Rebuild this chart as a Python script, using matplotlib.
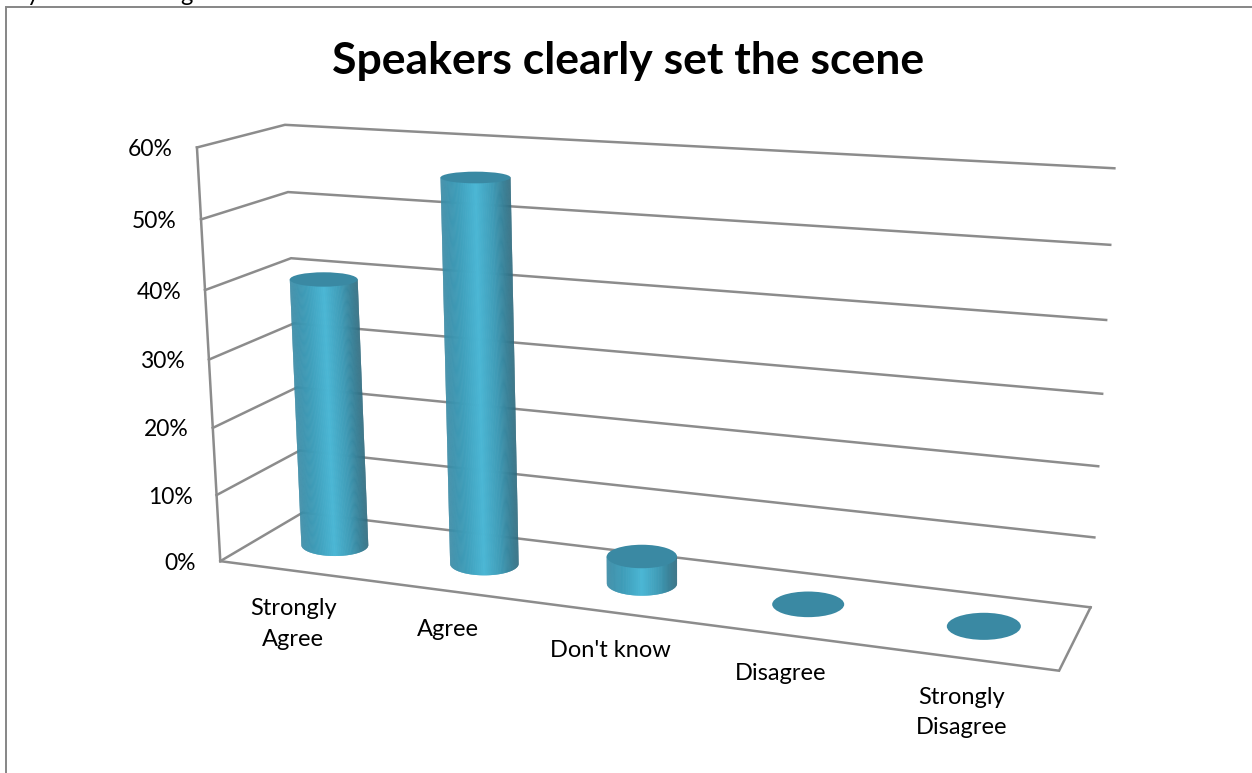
import numpy as np
import matplotlib
matplotlib.use('Agg')
import matplotlib.pyplot as plt
from matplotlib.collections import PolyCollection
from matplotlib.colors import LinearSegmentedColormap
from matplotlib.patches import Ellipse

title = 'Speakers clearly set the scene'
categories = ['Strongly\nAgree', 'Agree', "Don't know", 'Disagree', 'Strongly\nDisagree']
values = [40, 56, 4, 0, 0]
ticks = [0, 10, 20, 30, 40, 50, 60]

W, H = 1252, 773
GRID = '#8c8c8c'
TOP = '#3a89a3'
shade = LinearSegmentedColormap.from_list('cyl', ['#3a8ba6', '#3f9fbb', '#4bb7d5', '#3f9ab5', '#2f6c80'])

# (category pos, depth, value) -> pixel pairs used to solve the 3d view
view_pts = [
    (0, 0, 0, 220, 561), (0, 0, 10, 216, 495), (0, 0, 20, 213, 427), (0, 0, 30, 209, 360),
    (0, 0, 40, 206, 290), (0, 0, 50, 202, 219), (0, 0, 60, 196, 148),
    (0, 1, 0, 304, 513), (0, 1, 40, 291, 258), (0, 1, 50, 287, 192), (0, 1, 60, 285, 125),
    (5, 1, 0, 1090, 607), (5, 1, 10, 1094, 537), (5, 1, 20, 1098, 466), (5, 1, 30, 1103, 394),
    (5, 1, 40, 1107, 320), (5, 1, 50, 1110, 244), (5, 1, 60, 1114, 169),
    (5, 0, 0, 1059, 671),
    (0.5, 0.5, 0, 333.5, 545), (1.5, 0.5, 0, 484.5, 564), (2.5, 0.5, 0, 642.5, 584),
    (3.5, 0.5, 0, 808, 604.5), (4.5, 0.5, 0, 984, 626.5),
]


def solve_view(pts):
    A, b = [], []
    for u, d, v, x, y in pts:
        A.append([u, d, v, 1, 0, 0, 0, 0, -u * x, -d * x, -v * x])
        b.append(x)
        A.append([0, 0, 0, 0, u, d, v, 1, -u * y, -d * y, -v * y])
        b.append(y)
    p = np.linalg.lstsq(np.array(A, float), np.array(b, float), rcond=None)[0]
    return np.append(p, 1.0).reshape(3, 4)


CAM = solve_view(view_pts)


def project(u, d, v):
    q = CAM @ np.array([u, d, v, 1.0])
    return q[0] / q[2], q[1] / q[2]


def path3d(ax, pts):
    xy = np.array([project(*p) for p in pts])
    ax.plot(xy[:, 0], xy[:, 1], color=GRID, lw=1.8, solid_joinstyle='miter', zorder=1)


def disc(u, v, ru=0.205, rd=0.22):
    # centre and screen half axes of a bar cross section
    cx, cy = project(u, 0.5, v)
    a = abs(project(u + ru, 0.5, v)[0] - project(u - ru, 0.5, v)[0]) / 2
    b = abs(project(u, 0.5 - rd, v)[1] - project(u, 0.5 + rd, v)[1]) / 2
    # bars widen less with the view than the floor does
    return cx, cy, 18.5 + 0.5 * a, b


def draw_bar(ax, u, val):
    cx, cy, a, b = disc(u, 0)
    tx, ty, ta, tb = disc(u, val)
    if val > 0:
        ts = np.sin(np.linspace(-np.pi / 2, np.pi / 2, 160))
        polys, cols = [], []
        # each strip runs on under the next one so no seams show between them
        for i in range(len(ts) - 1):
            t0, t1, t2 = ts[i], ts[i + 1], ts[min(i + 2, len(ts) - 1)]
            strip = [(tx + ta * s, ty) for s in (t0, t1, t2)]
            strip += [(cx + a * s, cy + b * np.sqrt(max(1 - s ** 2, 0))) for s in (t2, t1, t0)]
            polys.append(strip)
            cols.append(shade((t0 + t1 + 2) / 4))
        ax.add_collection(PolyCollection(polys, facecolors=cols, edgecolors='none', zorder=3))
    ax.add_patch(Ellipse((tx, ty), 2 * ta, 2 * tb, facecolor=TOP, edgecolor='none', zorder=4))


plt.rcParams['font.family'] = ['Lato', 'DejaVu Sans']
fig = plt.figure(figsize=(W / 100, H / 100), dpi=100)
ax = fig.add_axes([0, 0, 1, 1])
ax.set_xlim(0, W)
ax.set_ylim(H, 0)
ax.axis('off')

# chart frame, cut off on the right and at the bottom
ax.plot([5.5, 5.5, W], [H, 6.5, 6.5], color='#868686', lw=1.4, solid_joinstyle='miter', zorder=1)

# tails of the line of text running above the frame
ax.text(33, 1, 'y', ha='center', va='baseline', fontsize=17, color='black')
ax.text(186, 1, 'g', ha='center', va='baseline', fontsize=17, color='black')

for t in ticks:
    path3d(ax, [(0, 0, t), (0, 1, t), (5, 1, t)])
    x, y = project(0, 0, t)
    ax.text(x - 24, y + 2, f'{t}%', ha='right', va='center', fontsize=16.5, color='black')
path3d(ax, [(0, 0, 0), (0, 0, ticks[-1])])
path3d(ax, [(0, 0, 0), (5, 0, 0), (5, 1, 0)])

for i, val in enumerate(values):
    draw_bar(ax, i + 0.5, val)

# category labels sit below the front edge of the floor, drifting with the view
for i, lab in enumerate(categories):
    x, y = project(i + 0.5, 0.5, 0)
    ax.text(x - 41.5 + 4.8 * i, y + 53 + 1.8 * i, lab, ha='center', va='top', fontsize=17,
            linespacing=1.56, color='black')

ax.text(628, 61, title, ha='center', va='center', fontsize=32, fontweight='bold', color='black')

fig.savefig('out.png', dpi=100)
